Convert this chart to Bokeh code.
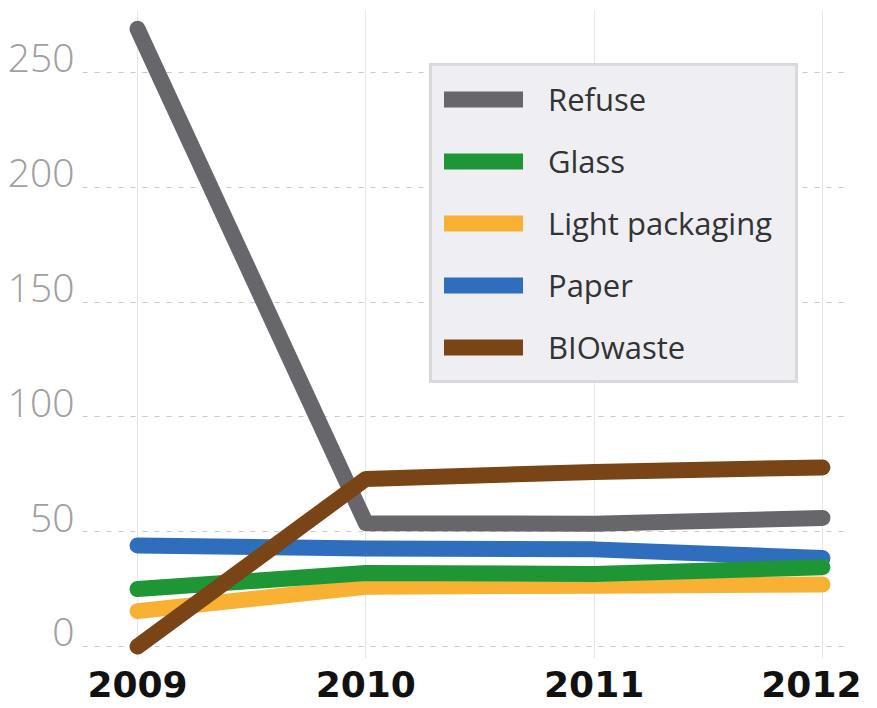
from bokeh.plotting import figure
from bokeh.models import Legend, LegendItem, FixedTicker, Range1d, LinearAxis, Grid
from bokeh.embed import file_html
from bokeh.resources import INLINE

years = [2009, 2010, 2011, 2012]
year_labels = ["2009", "2010", "2011", "2012"]
refuse = [269, 53.7, 53.5, 56]
glass = [25, 32, 31.6, 34.5]
light_packaging = [15.4, 26, 26.5, 27]
paper = [44, 42.7, 42.3, 38.5]
biowaste = [0, 73, 76, 78]
y_ticks = [0, 50, 100, 150, 200, 250]

colors = {
    "Refuse": "#67676b",
    "Glass": "#1e9636",
    "Light packaging": "#f8b133",
    "Paper": "#2f6ebd",
    "BIOwaste": "#7a4516",
}

Y0, Y1 = -5.23, 277.0
FRAME_H = 648
label_shift = 14 * (Y1 - Y0) / FRAME_H  # lift y labels so digits sit on the gridline

p = figure(width=861, height=706, output_backend="svg", toolbar_location=None,
           x_range=Range1d(2008.759, 2012.101), y_range=Range1d(Y0, Y1),
           y_axis_location=None,
           min_border_left=82, min_border_right=16, min_border_top=10, min_border_bottom=48)
p.outline_line_color = None
p.background_fill_color = "white"

lw = 16
r_ref = p.line(years, refuse, line_width=lw, line_color=colors["Refuse"], line_cap="round", line_join="round")
r_pap = p.line(years, paper, line_width=lw, line_color=colors["Paper"], line_cap="round", line_join="round")
r_lp = p.line(years, light_packaging, line_width=lw, line_color=colors["Light packaging"], line_cap="round", line_join="round")
r_gl = p.line(years, glass, line_width=lw, line_color=colors["Glass"], line_cap="round", line_join="round")
r_bio = p.line(years, biowaste, line_width=lw, line_color=colors["BIOwaste"], line_cap="round", line_join="round")

# x axis
p.xaxis.ticker = FixedTicker(ticks=years)
p.xaxis.major_label_overrides = {y: l for y, l in zip(years, year_labels)}
p.xaxis.axis_line_color = None
p.xaxis.major_tick_line_color = None
p.xaxis.minor_tick_line_color = None
p.xaxis.major_label_text_font = "DejaVu Sans"
p.xaxis.major_label_text_font_style = "bold"
p.xaxis.major_label_text_font_size = "36px"
p.xaxis.major_label_text_color = "#111111"
p.xaxis.major_label_standoff = 6

# y axis on a range shifted so that labels sit just above their gridlines
p.extra_y_ranges = {"labels": Range1d(Y0 - label_shift, Y1 - label_shift)}
yax = LinearAxis(y_range_name="labels", ticker=FixedTicker(ticks=y_ticks))
yax.axis_line_color = None
yax.major_tick_line_color = None
yax.minor_tick_line_color = None
yax.major_label_text_font = "Open Sans Light, Open Sans"
yax.major_label_text_font_size = "39px"
yax.major_label_text_color = "#a0a0a0"
yax.major_label_standoff = 2
p.add_layout(yax, "left")

# grids
for g in p.ygrid:
    g.visible = False
p.xgrid.grid_line_color = "#e4e4ec"
p.xgrid.grid_line_width = 1
ygrid = Grid(dimension=1, ticker=FixedTicker(ticks=y_ticks),
             grid_line_color="#c8c8c8", grid_line_dash="5 7", grid_line_width=1)
p.add_layout(ygrid, "center")

legend = Legend(items=[
    LegendItem(label="Refuse", renderers=[r_ref]),
    LegendItem(label="Glass", renderers=[r_gl]),
    LegendItem(label="Light packaging", renderers=[r_lp]),
    LegendItem(label="Paper", renderers=[r_pap]),
    LegendItem(label="BIOwaste", renderers=[r_bio]),
], location=(347, 275))
legend.glyph_width = 79
legend.glyph_height = 30
legend.label_height = 30
legend.label_width = 235
legend.label_standoff = 25
legend.spacing = 20
legend.padding = 12
legend.margin = 0
legend.label_text_font = "Open Sans"
legend.label_text_font_size = "31px"
legend.label_text_color = "#333333"
legend.background_fill_color = "#efeff3"
legend.background_fill_alpha = 1
legend.border_line_color = "#c4c4c4"
legend.border_line_width = 3
p.add_layout(legend, "center")

open("out.html", "w").write(file_html(p, INLINE))
